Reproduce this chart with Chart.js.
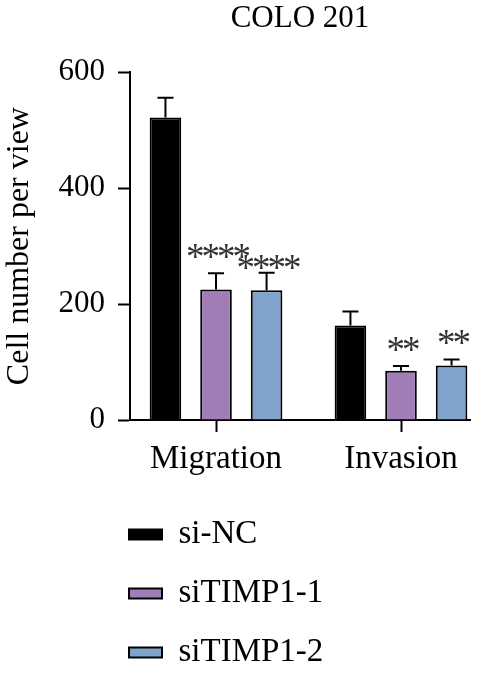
<!DOCTYPE html>
<html>
<head>
<meta charset="utf-8">
<script src="https://cdn.jsdelivr.net/npm/chart.js@4.4.1/dist/chart.umd.min.js"></script>
<style>
html, body { margin: 0; padding: 0; background: #fff; }
#wrap { width: 489px; height: 673px; }
</style>
</head>
<body>
<div id="wrap"><canvas id="coloChart"></canvas></div>
<script>
var groups = ["Migration", "Invasion"];
var seriesNames = ["si-NC", "siTIMP1-1", "siTIMP1-2"];
var meanNC = [522, 163];
var mean1 = [225, 85];
var mean2 = [224, 94];
var sdNC = [34, 24];
var sd1 = [28, 8];
var sd2 = [30, 10.5];
var sigNC = ["", ""];
var sig1 = ["****", "**"];
var sig2 = ["****", "**"];

var serif = "'Liberation Serif', 'Times New Roman', serif";

function points(values){
	return values.map(function(v, i){ return {x: i, y: v}; });
}

// error bars + significance stars on top of each bar
var errorBars = {
	id: 'errorBars',
	afterDatasetsDraw: function(chart){
		var ctx = chart.ctx;
		var yScale = chart.scales.y;
		var lastRight = [];
		ctx.save();
		chart.data.datasets.forEach(function(ds, d){
			var meta = chart.getDatasetMeta(d);
			meta.data.forEach(function(bar, i){
				var top = yScale.getPixelForValue(ds.data[i].y + ds.sd[i]);
				ctx.strokeStyle = "#000";
				ctx.lineWidth = 2;
				ctx.beginPath();
				ctx.moveTo(bar.x, bar.y);
				ctx.lineTo(bar.x, top);
				ctx.moveTo(bar.x - 8, top);
				ctx.lineTo(bar.x + 8, top);
				ctx.stroke();
				if (ds.sig[i]) {
					ctx.fillStyle = "#333";
					ctx.font = "37px " + serif;
					ctx.letterSpacing = "-3px";
					ctx.textAlign = "center";
					ctx.textBaseline = "middle";
					var w = ctx.measureText(ds.sig[i]).width;
					var y = top - 14;
					// push down when it would run into the neighbour's stars
					if (lastRight[i] != undefined && bar.x - w / 2 < lastRight[i]) {
						y += 12;
					}
					ctx.fillText(ds.sig[i], bar.x + 1, y);
					lastRight[i] = bar.x + w / 2;
				}
			});
		});
		ctx.restore();
	}
};

// legend sits under the axis, left aligned with the boxes column
var legendSpot = {
	id: 'legendSpot',
	afterLayout: function(chart){
		var lg = chart.legend;
		lg.left = chart.chartArea.left - 27;
		lg.top += 6;
		lg.bottom += 6;
	}
};

var axisBorder = { display: true, color: "#000", width: 2 };

var data = {
	datasets: [
		{
			label: seriesNames[0],
			data: points(meanNC),
			sd: sdNC,
			sig: sigNC,
			backgroundColor: "#000000",
			borderColor: "#000000",
			borderWidth: 2
		},
		{
			label: seriesNames[1],
			data: points(mean1),
			sd: sd1,
			sig: sig1,
			backgroundColor: "#a07cb8",
			borderColor: "#000000",
			borderWidth: 2
		},
		{
			label: seriesNames[2],
			data: points(mean2),
			sd: sd2,
			sig: sig2,
			backgroundColor: "#7fa3ca",
			borderColor: "#000000",
			borderWidth: 2
		}
	]
};

var config = {
	type: 'bar',
	data: data,
	options: {
		responsive: true,
		maintainAspectRatio: false,
		animation: false,
		devicePixelRatio: 1,
		categoryPercentage: 0.82,
		barPercentage: 0.625,
		layout: { padding: { left: 0, right: 19, top: 0, bottom: 0 } },
		scales: {
			x: {
				type: 'linear',
				offset: false,
				min: -0.465,
				max: 1.373,
				afterBuildTicks: function(s){
					s.ticks = groups.map(function(g, i){ return {value: i}; });
				},
				afterFit: function(s){ s.height = 66; },
				ticks: {
					callback: function(v){ return groups[v]; },
					font: { family: serif, size: 33 },
					color: "#000",
					padding: 8,
					maxRotation: 0,
					autoSkip: false
				},
				grid: {
					display: true,
					offset: false,
					drawOnChartArea: false,
					drawTicks: true,
					tickLength: 12,
					tickWidth: 2,
					tickColor: "#000"
				},
				border: axisBorder
			},
			y: {
				min: 0,
				max: 600,
				afterFit: function(s){ s.width = 130; },
				ticks: {
					stepSize: 200,
					font: { family: serif, size: 31 },
					color: "#000",
					padding: 13
				},
				grid: {
					display: true,
					drawOnChartArea: false,
					drawTicks: true,
					tickLength: 12,
					tickWidth: 2,
					tickColor: "#000"
				},
				border: axisBorder,
				title: {
					display: true,
					text: "Cell number per view",
					font: { family: serif, size: 32 },
					color: "#000",
					padding: { top: 0, bottom: 0 }
				}
			}
		},
		plugins: {
			title: {
				display: true,
				text: "COLO 201",
				fullSize: false,
				font: { family: serif, size: 31, weight: 'normal' },
				color: "#000",
				padding: { top: 0, bottom: 35 }
			},
			legend: {
				position: 'bottom',
				fullSize: false,
				align: 'start',
				labels: {
					boxWidth: 33,
					boxHeight: 10,
					padding: 26,
					color: "#000",
					font: { family: serif, size: 33 }
				}
			},
			tooltip: { enabled: false }
		}
	},
	plugins: [errorBars, legendSpot]
};

var coloChart = new Chart(document.getElementById('coloChart'), config);
</script>
</body>
</html>
